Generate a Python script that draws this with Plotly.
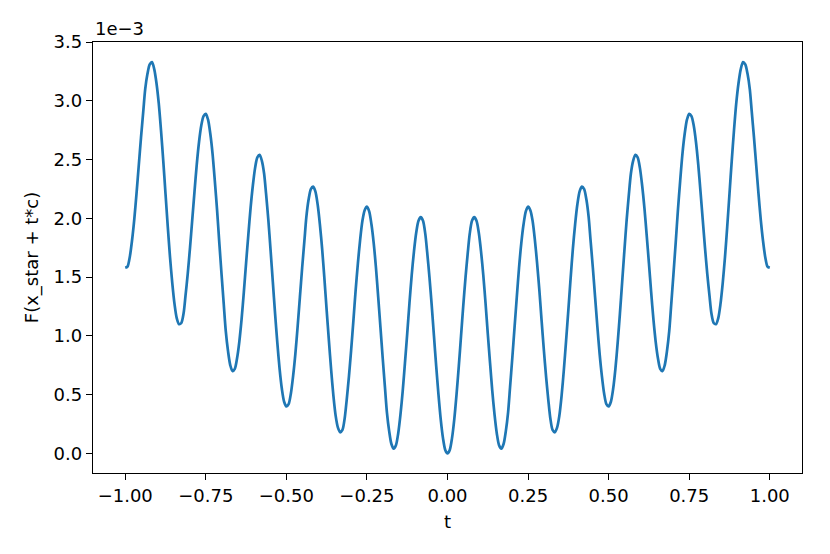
import plotly.graph_objects as go

# t sample positions
t_values = [
    -1.000, -0.993, -0.986, -0.979, -0.972, -0.965, -0.958, -0.951, -0.944, -0.938, -0.931, -0.924,
    -0.917, -0.910, -0.903, -0.896, -0.889, -0.882, -0.875, -0.868, -0.861, -0.854, -0.847, -0.840,
    -0.833, -0.826, -0.819, -0.813, -0.806, -0.799, -0.792, -0.785, -0.778, -0.771, -0.764, -0.757,
    -0.750, -0.743, -0.736, -0.729, -0.722, -0.715, -0.708, -0.701, -0.694, -0.688, -0.681, -0.674,
    -0.667, -0.660, -0.653, -0.646, -0.639, -0.632, -0.625, -0.618, -0.611, -0.604, -0.597, -0.590,
    -0.583, -0.576, -0.569, -0.563, -0.556, -0.549, -0.542, -0.535, -0.528, -0.521, -0.514, -0.507,
    -0.500, -0.493, -0.486, -0.479, -0.472, -0.465, -0.458, -0.451, -0.444, -0.438, -0.431, -0.424,
    -0.417, -0.410, -0.403, -0.396, -0.389, -0.382, -0.375, -0.368, -0.361, -0.354, -0.347, -0.340,
    -0.333, -0.326, -0.319, -0.313, -0.306, -0.299, -0.292, -0.285, -0.278, -0.271, -0.264, -0.257,
    -0.250, -0.243, -0.236, -0.229, -0.222, -0.215, -0.208, -0.201, -0.194, -0.188, -0.181, -0.174,
    -0.167, -0.160, -0.153, -0.146, -0.139, -0.132, -0.125, -0.118, -0.111, -0.104, -0.097, -0.090,
    -0.083, -0.076, -0.069, -0.063, -0.056, -0.049, -0.042, -0.035, -0.028, -0.021, -0.014, -0.007,
    0.000,
    0.007, 0.014, 0.021, 0.028, 0.035, 0.042, 0.049, 0.056, 0.063, 0.069, 0.076, 0.083,
    0.090, 0.097, 0.104, 0.111, 0.118, 0.125, 0.132, 0.139, 0.146, 0.153, 0.160, 0.167,
    0.174, 0.181, 0.188, 0.194, 0.201, 0.208, 0.215, 0.222, 0.229, 0.236, 0.243, 0.250,
    0.257, 0.264, 0.271, 0.278, 0.285, 0.292, 0.299, 0.306, 0.313, 0.319, 0.326, 0.333,
    0.340, 0.347, 0.354, 0.361, 0.368, 0.375, 0.382, 0.389, 0.396, 0.403, 0.410, 0.417,
    0.424, 0.431, 0.438, 0.444, 0.451, 0.458, 0.465, 0.472, 0.479, 0.486, 0.493, 0.500,
    0.507, 0.514, 0.521, 0.528, 0.535, 0.542, 0.549, 0.556, 0.563, 0.569, 0.576, 0.583,
    0.590, 0.597, 0.604, 0.611, 0.618, 0.625, 0.632, 0.639, 0.646, 0.653, 0.660, 0.667,
    0.674, 0.681, 0.688, 0.694, 0.701, 0.708, 0.715, 0.722, 0.729, 0.736, 0.743, 0.750,
    0.757, 0.764, 0.771, 0.778, 0.785, 0.792, 0.799, 0.806, 0.813, 0.819, 0.826, 0.833,
    0.840, 0.847, 0.854, 0.861, 0.868, 0.875, 0.882, 0.889, 0.896, 0.903, 0.910, 0.917,
    0.924, 0.931, 0.938, 0.944, 0.951, 0.958, 0.965, 0.972, 0.979, 0.986, 0.993, 1.000]

# F(x_star + t*c) in units of 1e-3
f_values = [
    1.58, 1.59, 1.67, 1.81, 1.99, 2.21, 2.45, 2.69, 2.91, 3.10, 3.23, 3.31,
    3.33, 3.27, 3.15, 2.98, 2.75, 2.49, 2.21, 1.93, 1.67, 1.45, 1.27, 1.15,
    1.10, 1.11, 1.19, 1.34, 1.53, 1.75, 1.99, 2.23, 2.46, 2.65, 2.79, 2.87,
    2.89, 2.84, 2.72, 2.55, 2.32, 2.07, 1.79, 1.52, 1.26, 1.04, 0.87, 0.75,
    0.70, 0.72, 0.81, 0.95, 1.14, 1.37, 1.62, 1.86, 2.09, 2.28, 2.43, 2.52,
    2.54, 2.49, 2.38, 2.21, 1.99, 1.73, 1.46, 1.19, 0.94, 0.72, 0.55, 0.44,
    0.40, 0.42, 0.51, 0.66, 0.85, 1.08, 1.33, 1.58, 1.81, 2.01, 2.16, 2.25,
    2.27, 2.23, 2.12, 1.95, 1.74, 1.49, 1.22, 0.96, 0.71, 0.49, 0.32, 0.22,
    0.18, 0.20, 0.30, 0.45, 0.65, 0.88, 1.13, 1.39, 1.62, 1.82, 1.98, 2.07,
    2.10, 2.06, 1.95, 1.79, 1.58, 1.33, 1.07, 0.81, 0.56, 0.35, 0.19, 0.08,
    0.04, 0.07, 0.17, 0.33, 0.53, 0.77, 1.02, 1.28, 1.52, 1.72, 1.88, 1.98,
    2.01, 1.98, 1.87, 1.71, 1.50, 1.26, 1.00, 0.74, 0.50, 0.29, 0.13, 0.03,
    0.00,
    0.03, 0.13, 0.29, 0.50, 0.74, 1.00, 1.26, 1.50, 1.71, 1.87, 1.98, 2.01,
    1.98, 1.88, 1.72, 1.52, 1.28, 1.02, 0.77, 0.53, 0.33, 0.17, 0.07, 0.04,
    0.08, 0.19, 0.35, 0.56, 0.81, 1.07, 1.33, 1.58, 1.79, 1.95, 2.06, 2.10,
    2.07, 1.98, 1.82, 1.62, 1.39, 1.13, 0.88, 0.65, 0.45, 0.30, 0.20, 0.18,
    0.22, 0.32, 0.49, 0.71, 0.96, 1.22, 1.49, 1.74, 1.95, 2.12, 2.23, 2.27,
    2.25, 2.16, 2.01, 1.81, 1.58, 1.33, 1.08, 0.85, 0.66, 0.51, 0.42, 0.40,
    0.44, 0.55, 0.72, 0.94, 1.19, 1.46, 1.73, 1.99, 2.21, 2.38, 2.49, 2.54,
    2.52, 2.43, 2.28, 2.09, 1.86, 1.62, 1.37, 1.14, 0.95, 0.81, 0.72, 0.70,
    0.75, 0.87, 1.04, 1.26, 1.52, 1.79, 2.07, 2.32, 2.55, 2.72, 2.84, 2.89,
    2.87, 2.79, 2.65, 2.46, 2.23, 1.99, 1.75, 1.53, 1.34, 1.19, 1.11, 1.10,
    1.15, 1.27, 1.45, 1.67, 1.93, 2.21, 2.49, 2.75, 2.98, 3.15, 3.27, 3.33,
    3.31, 3.23, 3.10, 2.91, 2.69, 2.45, 2.21, 1.99, 1.81, 1.67, 1.59, 1.58]

x_ticks = [-1.0, -0.75, -0.5, -0.25, 0.0, 0.25, 0.5, 0.75, 1.0]
x_tick_labels = ["−1.00", "−0.75", "−0.50", "−0.25", "0.00", "0.25", "0.50", "0.75", "1.00"]
y_ticks = [0.0, 0.5, 1.0, 1.5, 2.0, 2.5, 3.0, 3.5]
y_tick_labels = ["0.0", "0.5", "1.0", "1.5", "2.0", "2.5", "3.0", "3.5"]

fig = go.Figure()
fig.add_trace(go.Scatter(
    x=t_values, y=f_values, mode="lines",
    line=dict(color="#1f77b4", width=2.7, shape="spline", smoothing=0.8),
    showlegend=False, hoverinfo="skip"))

font = dict(family="DejaVu Sans", size=18, color="black")
axis_common = dict(showline=True, linecolor="black", linewidth=1.4, mirror=True,
                   ticks="outside", ticklen=6, tickwidth=1.4, tickcolor="black",
                   showgrid=False, zeroline=False, tickfont=font, automargin=False)

# page body has an 8px default margin, so the figure is 8px smaller than the window
fig.update_layout(
    width=822, height=546,
    margin=dict(l=85, r=28, t=34, b=81),
    paper_bgcolor="white", plot_bgcolor="white",
    font=font,
    xaxis=dict(range=[-1.1, 1.1], tickvals=x_ticks, ticktext=x_tick_labels,
               title=dict(text="t", font=font, standoff=10), **axis_common),
    yaxis=dict(range=[-0.1665, 3.501], tickvals=y_ticks, ticktext=y_tick_labels,
               title=dict(text="F(x_star + t*c)", font=font, standoff=10), **axis_common),
    annotations=[dict(text="1e−3", xref="paper", yref="paper", x=0, y=1,
                      xanchor="left", yanchor="bottom", yshift=1, showarrow=False,
                      font=font)],
)

fig.write_html("out.html")
